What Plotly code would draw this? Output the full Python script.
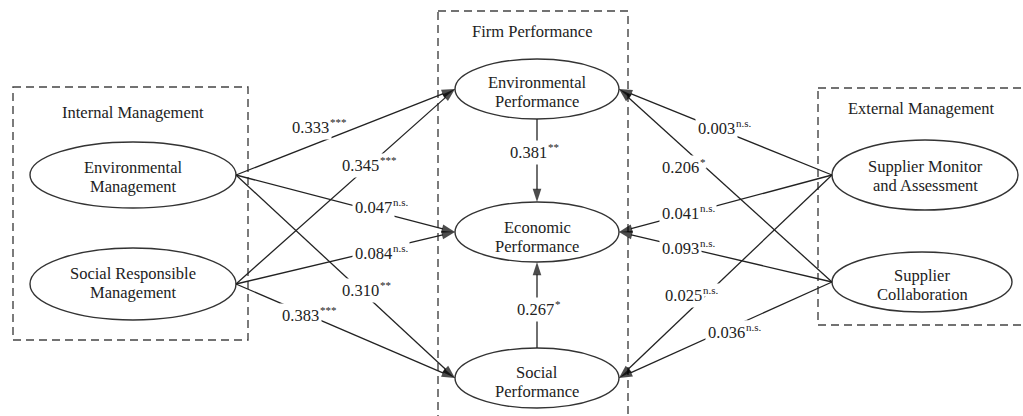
import plotly.graph_objects as go

# ---- model content -------------------------------------------------------
node_ids = ["EM", "SRM", "SMA", "SC", "EP", "EcP", "SP"]
node_labels = [
    "Environmental<br>Management",
    "Social Responsible<br>Management",
    "Supplier Monitor<br>and Assessment",
    "Supplier<br>Collaboration",
    "Environmental<br>Performance",
    "Economic<br>Performance",
    "Social<br>Performance",
]

# structural paths: source -> target, standardized coefficient, significance
path_from = ["EM", "SRM", "EM", "SRM", "EM", "SRM",
             "SMA", "SC", "SMA", "SC", "SMA", "SC",
             "EP", "SP"]
path_to = ["EP", "EP", "EcP", "EcP", "SP", "SP",
           "EP", "EP", "EcP", "EcP", "SP", "SP",
           "EcP", "EcP"]
path_coef = [0.333, 0.345, 0.047, 0.084, 0.310, 0.383,
             0.003, 0.206, 0.041, 0.093, 0.025, 0.036,
             0.381, 0.267]
path_sig = ["***", "***", "n.s.", "n.s.", "**", "***",
            "n.s.", "*", "n.s.", "n.s.", "n.s.", "n.s.",
            "**", "*"]

group_titles = ["Internal Management", "Firm Performance", "External Management"]

# ---- drawing layout (pixel-like canvas units) -----------------------------
node_geom = {          # cx, cy, rx, ry, text centre y
    "EM": (133, 175, 103, 33, 176.5),
    "SRM": (133, 284, 103, 36, 283),
    "SMA": (925, 175, 93, 35, 176),
    "SC": (922, 282, 90, 30, 284.5),
    "EP": (537, 89, 82, 30, 91.5),
    "EcP": (537, 232, 82, 30, 237),
    "SP": (537, 378, 82, 30, 382),
}
# left edge of the number / vertical centre of each coefficient label
label_pos = [(292, 127), (342, 165), (355, 207), (355, 253), (342, 290), (282, 315),
             (698, 128), (662, 167), (662, 213), (662, 248), (665, 295), (708, 332),
             (510, 152), (517, 309)]
group_boxes = [(13, 87, 248, 340), (438, 11, 628, 430), (818, 88, 1035, 325)]
group_title_pos = [(133, 112), (532, 31), (921, 108)]

INK = "#222222"
FONT = "Liberation Serif, Times New Roman, serif"
FS = 16.5
SUP_FS = 11
LINE_GAP = 19
NUM_W = 37          # width of a "0.000" string at FS
PAD = 2             # label box padding (plus 1px border slot)


def port(a, b):
    """Point on node a's outline facing node b."""
    ax_, ay_, arx, ary, _ = node_geom[a]
    bx_, by_, _, _, _ = node_geom[b]
    if abs(ax_ - bx_) < 1:
        return (ax_, ay_ + ary) if by_ > ay_ else (ax_, ay_ - ary)
    return (ax_ + arx, ay_) if bx_ > ax_ else (ax_ - arx, ay_)


fig = go.Figure()
shapes = []
annotations = []

# dashed group boxes
for (x0, y0, x1, y1) in group_boxes:
    shapes.append(dict(type="rect", xref="x", yref="y", x0=x0, y0=y0, x1=x1, y1=y1,
                       line=dict(color="#444444", width=1.4, dash="8px,5px"),
                       fillcolor="rgba(0,0,0,0)", layer="below"))
for title, (tx, ty) in zip(group_titles, group_title_pos):
    annotations.append(dict(x=tx, y=ty, xref="x", yref="y", text=title, showarrow=False,
                            font=dict(family=FONT, size=FS, color=INK)))

# construct ellipses with two-line names
for nid, lab in zip(node_ids, node_labels):
    cx, cy, rx, ry, tcy = node_geom[nid]
    shapes.append(dict(type="circle", xref="x", yref="y",
                       x0=cx - rx, x1=cx + rx, y0=cy - ry, y1=cy + ry,
                       line=dict(color="#333333", width=1.4), fillcolor="white",
                       layer="below"))
    lines = lab.split("<br>")
    n = len(lines)
    for i, ln in enumerate(lines):
        ly = tcy + (i - (n - 1) / 2) * LINE_GAP
        annotations.append(dict(x=cx, y=ly, xref="x", yref="y", text=ln, showarrow=False,
                                font=dict(family=FONT, size=FS, color=INK)))

# path arrows: line with an arrowhead marker at the target end
for s, t in zip(path_from, path_to):
    sx, sy = port(s, t)
    tx, ty = port(t, s)
    fig.add_trace(go.Scatter(
        x=[sx, tx], y=[sy, ty], mode="lines+markers",
        line=dict(color=INK, width=1.3),
        marker=dict(symbol="arrow", size=[0, 14], angleref="previous",
                    color="#000000", line=dict(width=0)),
        hoverinfo="skip", showlegend=False,
    ))

# coefficient labels (white box breaks the path line), significance raised
for coef, sig, (lx, ly) in zip(path_coef, path_sig, label_pos):
    annotations.append(dict(x=lx - PAD - 1, y=ly, xref="x", yref="y", xanchor="left",
                            text=f"{coef:.3f}", showarrow=False,
                            bgcolor="white", borderpad=PAD,
                            font=dict(family=FONT, size=FS, color=INK)))
    annotations.append(dict(x=lx + NUM_W, y=ly - 5, xref="x", yref="y", xanchor="left",
                            text=sig, showarrow=False,
                            bgcolor="white", borderpad=0,
                            font=dict(family=FONT, size=SUP_FS, color=INK)))

fig.update_layout(
    width=1023, height=416,
    margin=dict(l=0, r=0, t=0, b=0),
    paper_bgcolor="white", plot_bgcolor="white",
    showlegend=False,
    xaxis=dict(range=[0, 1023], visible=False, fixedrange=True),
    yaxis=dict(range=[416, 0], visible=False, fixedrange=True),
    shapes=shapes,
    annotations=annotations,
)

fig.write_html("out.html")
